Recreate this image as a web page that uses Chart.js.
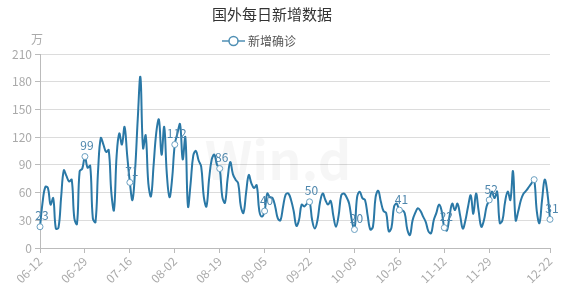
<!DOCTYPE html>
<html>
<head>
<meta charset="utf-8">
<script src="https://cdn.jsdelivr.net/npm/chart.js@4.4.0/dist/chart.umd.min.js"></script>
<style>
  body { margin: 0; background: #fff; }
  #wrap { width: 565px; height: 292px; }
</style>
</head>
<body>
<div id="wrap"><canvas id="chart" width="565" height="292"></canvas></div>
<script>
// 国外每日新增数据 (万)
const chartTitle = '国外每日新增数据';
const seriesName = '新增确诊';
const unitLabel = '万';
const startDate = '2020-06-12';

// 每日新增确诊, 06-12 ~ 12-22
const newCases = [
    23, 50, 66, 65, 47, 54, 21, 22, 55, 84,
    78, 72, 74, 32, 26, 83, 86, 99, 87, 89,
    32, 28, 85, 119, 112, 104, 106, 60, 41, 100,
    124, 112, 131, 100, 71, 52, 85, 140, 185, 108,
    122, 70, 56, 90, 125, 139, 101, 131, 80, 55,
    75, 112, 124, 134, 96, 120, 45, 70, 100, 105,
    95, 88, 55, 45, 75, 96, 101, 90, 86, 55,
    49, 75, 93, 80, 74, 70, 45, 38, 60, 79,
    70, 65, 68, 40, 34, 40, 59, 55, 54, 45,
    32, 30, 45, 58, 59, 52, 40, 24, 30, 47,
    45, 48, 50, 30, 21, 30, 50, 59, 52, 47,
    51, 35, 23, 35, 57, 59, 55, 48, 30, 20,
    55, 61, 54, 52, 35, 20, 23, 55, 62, 50,
    40, 38, 18, 22, 45, 48, 41, 41, 38, 20,
    14, 30, 38, 43, 40, 34, 28, 18, 16, 30,
    38, 47, 40, 22, 19, 35, 48, 41, 48, 35,
    21, 30, 45, 57, 37, 59, 40, 23, 30, 45,
    52, 61, 54, 61, 27, 30, 50, 61, 52, 83,
    30, 40, 52, 59, 62, 66, 70, 74, 40, 27,
    52, 74, 60, 31
];

// 标记点 / 轴标签位置
const markIndex = [0, 17, 34, 51, 68, 85, 102, 119, 136, 153, 170, 187, 193];
const tickIndex = [0, 17, 34, 51, 68, 85, 102, 119, 136, 153, 170, 193];
const hiddenLabelIndex = [187];

// 日期标签
const dates = [];
(function () {
    const d0 = new Date(startDate + 'T00:00:00Z');
    for (let i = 0; i < newCases.length; i++) {
        const d = new Date(d0.getTime() + i * 86400000);
        const mm = String(d.getUTCMonth() + 1).padStart(2, '0');
        const dd = String(d.getUTCDate()).padStart(2, '0');
        dates.push(mm + '-' + dd);
    }
})();

const LINE_COLOR = '#2a78a6';
const FONT = "'Noto Sans CJK SC', 'DejaVu Sans', sans-serif";

const decorPlugin = {
    id: 'decor',
    beforeDatasetsDraw(chart) {
        const ctx = chart.ctx;
        // 水印
        ctx.save();
        ctx.fillStyle = 'rgba(0, 0, 0, 0.035)';
        ctx.font = 'bold 52px ' + FONT;
        ctx.textAlign = 'center';
        ctx.textBaseline = 'middle';
        ctx.fillText('Win.d', 278, 160);
        ctx.restore();
    },
    afterDraw(chart) {
        const ctx = chart.ctx;
        ctx.save();

        // 标题
        ctx.fillStyle = '#333';
        ctx.font = '15px ' + FONT;
        ctx.textAlign = 'center';
        ctx.textBaseline = 'middle';
        ctx.fillText(chartTitle, 272, 14);

        // 图例
        ctx.strokeStyle = '#4f8fb4';
        ctx.lineWidth = 1.5;
        ctx.beginPath();
        ctx.moveTo(222, 41);
        ctx.lineTo(245, 41);
        ctx.stroke();
        ctx.beginPath();
        ctx.arc(233.5, 41, 4.5, 0, Math.PI * 2);
        ctx.fillStyle = '#fff';
        ctx.fill();
        ctx.stroke();
        ctx.fillStyle = '#555';
        ctx.font = '12px ' + FONT;
        ctx.textAlign = 'left';
        ctx.fillText(seriesName, 248, 41);

        // 单位
        ctx.fillStyle = '#aaa';
        ctx.textAlign = 'center';
        ctx.fillText(unitLabel, 37, 39);

        // 数据标签
        const meta = chart.getDatasetMeta(0);
        ctx.fillStyle = '#4f87ad';
        ctx.font = '12px ' + FONT;
        ctx.textAlign = 'center';
        ctx.textBaseline = 'bottom';
        for (const i of markIndex) {
            if (hiddenLabelIndex.includes(i)) continue;
            const p = meta.data[i];
            ctx.fillText(String(newCases[i]), p.x + 2, p.y - 5);
        }
        ctx.restore();
    }
};

new Chart(document.getElementById('chart').getContext('2d'), {
    type: 'line',
    data: {
        labels: dates,
        datasets: [{
            label: seriesName,
            data: newCases,
            borderColor: LINE_COLOR,
            borderWidth: 2,
            tension: 0.4,
            fill: false,
            pointRadius: (c) => markIndex.includes(c.dataIndex) ? 3 : 0,
            pointHoverRadius: 0,
            pointBackgroundColor: '#fff',
            pointBorderColor: '#6a9fc0',
            pointBorderWidth: 1
        }]
    },
    options: {
        responsive: false,
        animation: false,
        layout: {
            padding: { top: 54, right: 15, left: 0, bottom: 0 }
        },
        plugins: {
            legend: { display: false },
            title: { display: false },
            tooltip: { enabled: false }
        },
        scales: {
            x: {
                type: 'category',
                offset: false,
                grid: {
                    drawOnChartArea: false,
                    tickLength: 5,
                    color: (c) => tickIndex.includes(c.index) ? '#bbb' : 'rgba(0,0,0,0)'
                },
                border: { color: '#bbb' },
                ticks: {
                    autoSkip: false,
                    maxRotation: 45,
                    minRotation: 45,
                    padding: 1,
                    color: '#aaa',
                    font: { size: 12, family: FONT },
                    callback: function (value, index) {
                        return tickIndex.includes(index) ? dates[index] : '';
                    }
                },
                afterFit: (s) => { s.height = 44; }
            },
            y: {
                min: 0,
                max: 210,
                grid: {
                    color: '#dcdcdc',
                    tickLength: 5,
                    tickColor: '#bbb'
                },
                border: { color: '#bbb' },
                ticks: {
                    stepSize: 30,
                    padding: 3,
                    color: '#aaa',
                    font: { size: 12, family: FONT }
                },
                afterFit: (s) => { s.width = 40; }
            }
        }
    },
    plugins: [decorPlugin]
});
</script>
</body>
</html>
